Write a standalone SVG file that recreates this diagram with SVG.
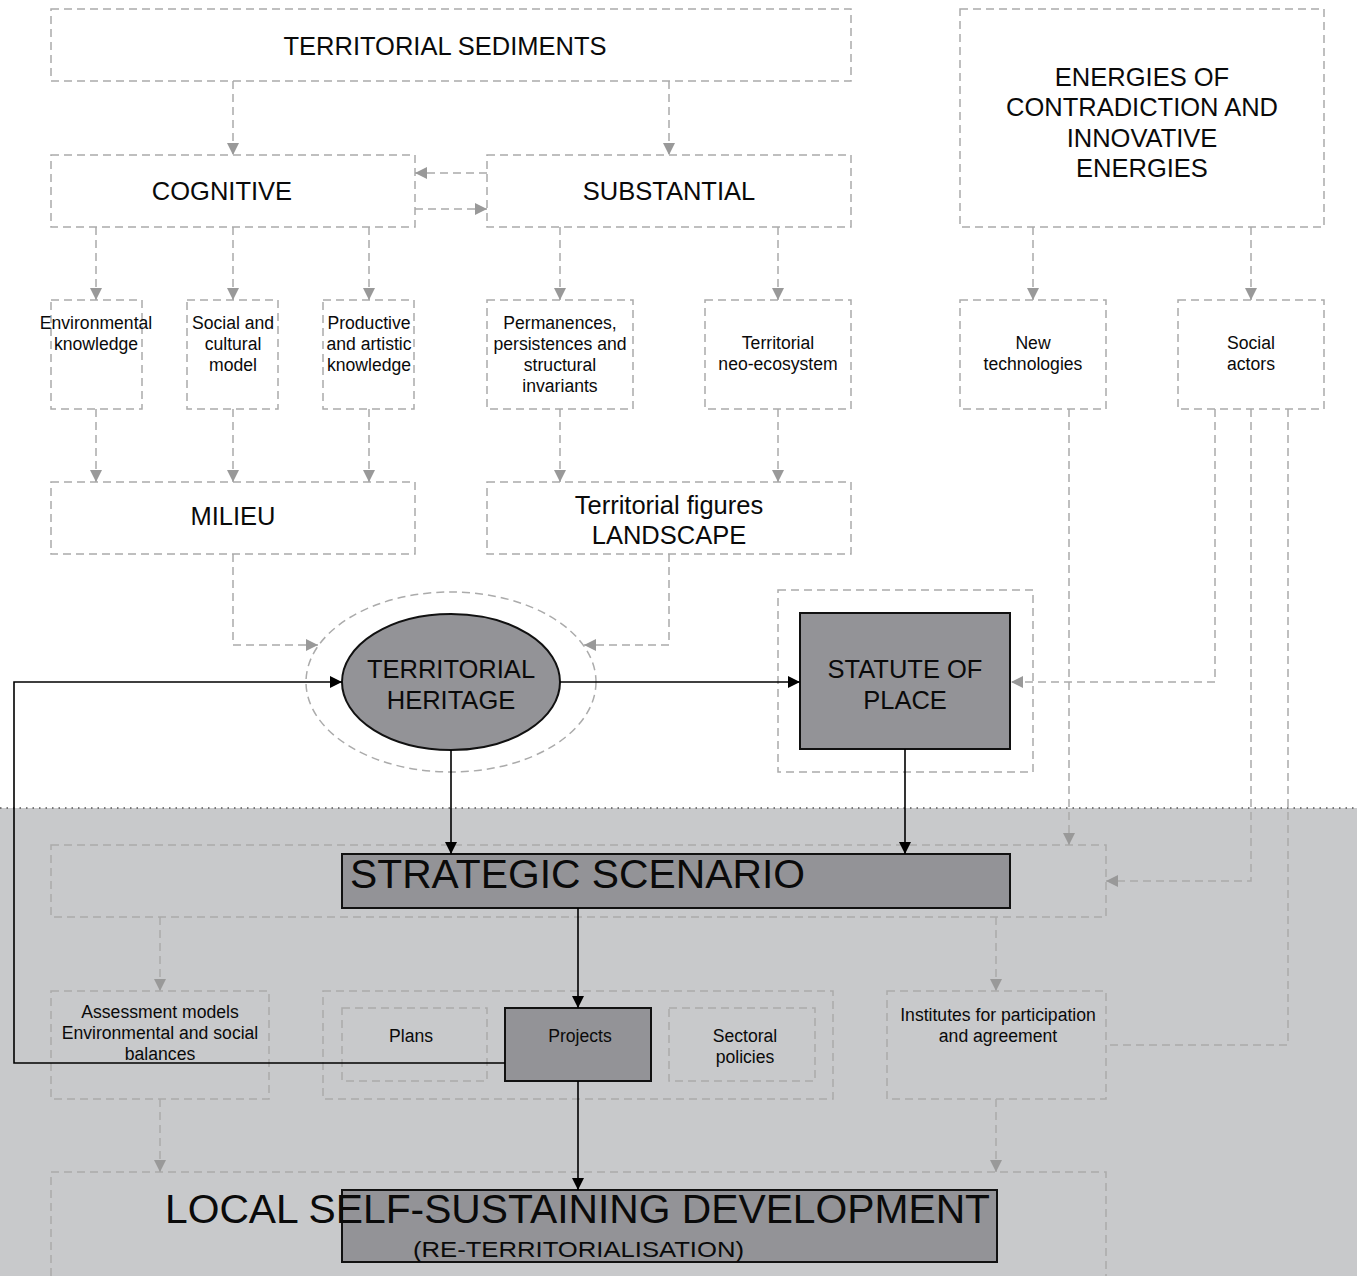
<svg xmlns="http://www.w3.org/2000/svg" width="1357" height="1276" viewBox="0 0 1357 1276">
<style>
.d{fill:none;stroke:#ababab;stroke-width:1.5;stroke-dasharray:8 5}
.dl{fill:none;stroke:#ababab;stroke-width:1.5;stroke-dasharray:8 5}
.s{fill:none;stroke:#000;stroke-width:1.6}
.f{fill:#939397;stroke:#111;stroke-width:2}
text{font-family:"Liberation Sans",Arial,sans-serif;fill:#0a0a0a;text-anchor:middle}
.t22{font-size:25.5px}
.t23{font-size:25.5px}
.t16{font-size:17.6px}
</style>
<defs>
<marker id="ga" markerUnits="userSpaceOnUse" viewBox="0 0 12 12" refX="12" refY="6" markerWidth="12" markerHeight="12" orient="auto"><path d="M0,0 L12,6 L0,12 Z" fill="#999"/></marker>
<marker id="ba" markerUnits="userSpaceOnUse" viewBox="0 0 12 12" refX="12" refY="6" markerWidth="12" markerHeight="12" orient="auto"><path d="M0,0 L12,6 L0,12 Z" fill="#000"/></marker>
</defs>
<rect x="0" y="0" width="1357" height="1276" fill="#fff"/>
<rect x="0" y="808" width="1357" height="468" fill="#c8c9cb"/>
<line x1="0" y1="808" x2="1357" y2="808" stroke="#555" stroke-width="1.5" stroke-dasharray="1.5 5"/>

<g id="n-sediments"><rect class="d" x="51" y="9" width="800" height="72"/><text class="t22" x="445" y="55">TERRITORIAL SEDIMENTS</text></g>
<g id="n-energies"><rect class="d" x="960" y="9" width="364" height="218"/><text class="t22" x="1142" y="86">ENERGIES OF</text><text class="t22" x="1142" y="116">CONTRADICTION AND</text><text class="t22" x="1142" y="147">INNOVATIVE</text><text class="t22" x="1142" y="177">ENERGIES</text></g>
<g id="n-cognitive"><rect class="d" x="51" y="155" width="364" height="72"/><text class="t22" x="222" y="200">COGNITIVE</text></g>
<g id="n-substantial"><rect class="d" x="487" y="155" width="364" height="72"/><text class="t22" x="669" y="200">SUBSTANTIAL</text></g>

<g id="n-env"><rect class="d" x="51" y="300" width="91" height="109"/><text class="t16" x="96" y="329">Environmental</text><text class="t16" x="96" y="350">knowledge</text></g>
<g id="n-social"><rect class="d" x="187" y="300" width="91" height="109"/><text class="t16" x="233" y="329">Social and</text><text class="t16" x="233" y="350">cultural</text><text class="t16" x="233" y="371">model</text></g>
<g id="n-productive"><rect class="d" x="323" y="300" width="91" height="109"/><text class="t16" x="369" y="329">Productive</text><text class="t16" x="369" y="350">and artistic</text><text class="t16" x="369" y="371">knowledge</text></g>
<g id="n-perm"><rect class="d" x="487" y="300" width="146" height="109"/><text class="t16" x="560" y="329">Permanences,</text><text class="t16" x="560" y="350">persistences and</text><text class="t16" x="560" y="371">structural</text><text class="t16" x="560" y="392">invariants</text></g>
<g id="n-neo"><rect class="d" x="705" y="300" width="146" height="109"/><text class="t16" x="778" y="349">Territorial</text><text class="t16" x="778" y="370">neo-ecosystem</text></g>
<g id="n-newtech"><rect class="d" x="960" y="300" width="146" height="109"/><text class="t16" x="1033" y="349">New</text><text class="t16" x="1033" y="370">technologies</text></g>
<g id="n-actors"><rect class="d" x="1178" y="300" width="146" height="109"/><text class="t16" x="1251" y="349">Social</text><text class="t16" x="1251" y="370">actors</text></g>

<g id="n-milieu"><rect class="d" x="51" y="482" width="364" height="72"/><text class="t22" x="233" y="525">MILIEU</text></g>
<g id="n-landscape"><rect class="d" x="487" y="482" width="364" height="72"/><text class="t22" x="669" y="514">Territorial figures</text><text class="t22" x="669" y="544">LANDSCAPE</text></g>

<g id="n-heritage"><ellipse class="d" cx="451" cy="682" rx="145" ry="90"/><ellipse class="f" cx="451" cy="682" rx="109" ry="68"/><text class="t23" x="451" y="678">TERRITORIAL</text><text class="t23" x="451" y="709">HERITAGE</text></g>
<g id="n-statute"><rect class="d" x="778" y="590" width="255" height="182"/><rect class="f" x="800" y="613" width="210" height="136"/><text class="t23" x="905" y="678">STATUTE OF</text><text class="t23" x="905" y="709">PLACE</text></g>

<g id="n-strategic"><rect class="d" x="51" y="845" width="1055" height="72"/><rect class="f" x="342" y="854" width="668" height="54"/><text x="350" y="888" style="font-size:41px;text-anchor:start" textLength="455" lengthAdjust="spacingAndGlyphs">STRATEGIC SCENARIO</text></g>

<g id="n-assessment"><rect class="d" x="51" y="991" width="218" height="108"/><text class="t16" x="160" y="1018">Assessment models</text><text class="t16" x="160" y="1039">Environmental and social</text><text class="t16" x="160" y="1060">balances</text></g>
<g id="n-tools"><rect class="d" x="323" y="991" width="510" height="108"/></g>
<g id="n-plans"><rect class="d" x="342" y="1008" width="145" height="73"/><text class="t16" x="411" y="1042">Plans</text></g>
<g id="n-projects"><rect class="f" x="505" y="1008" width="146" height="73"/><text class="t16" x="580" y="1042">Projects</text></g>
<g id="n-sectoral"><rect class="d" x="669" y="1008" width="146" height="73"/><text class="t16" x="745" y="1042">Sectoral</text><text class="t16" x="745" y="1063">policies</text></g>
<g id="n-institutes"><rect class="d" x="887" y="991" width="219" height="108"/><text class="t16" x="998" y="1021">Institutes for participation</text><text class="t16" x="998" y="1042">and agreement</text></g>

<g id="n-local"><path class="d" d="M51,1276 V1172 H1106 V1276"/><rect class="f" x="342" y="1190" width="655" height="72"/><text x="165" y="1223" style="font-size:40px;text-anchor:start" textLength="825" lengthAdjust="spacingAndGlyphs">LOCAL SELF-SUSTAINING DEVELOPMENT</text><text x="413" y="1257" style="font-size:22px;text-anchor:start" textLength="331" lengthAdjust="spacingAndGlyphs">(RE-TERRITORIALISATION)</text></g>

<g id="connectors">
<path class="dl" d="M233,81 V155" marker-end="url(#ga)"/>
<path class="dl" d="M669,81 V155" marker-end="url(#ga)"/>
<path class="dl" d="M487,173 H415" marker-end="url(#ga)"/>
<path class="dl" d="M415,209 H487" marker-end="url(#ga)"/>
<path class="dl" d="M96,227 V300" marker-end="url(#ga)"/>
<path class="dl" d="M233,227 V300" marker-end="url(#ga)"/>
<path class="dl" d="M369,227 V300" marker-end="url(#ga)"/>
<path class="dl" d="M560,227 V300" marker-end="url(#ga)"/>
<path class="dl" d="M778,227 V300" marker-end="url(#ga)"/>
<path class="dl" d="M1033,227 V300" marker-end="url(#ga)"/>
<path class="dl" d="M1251,227 V300" marker-end="url(#ga)"/>
<path class="dl" d="M96,409 V482" marker-end="url(#ga)"/>
<path class="dl" d="M233,409 V482" marker-end="url(#ga)"/>
<path class="dl" d="M369,409 V482" marker-end="url(#ga)"/>
<path class="dl" d="M560,409 V482" marker-end="url(#ga)"/>
<path class="dl" d="M778,409 V482" marker-end="url(#ga)"/>
<path class="dl" d="M233,554 V645 H318" marker-end="url(#ga)"/>
<path class="dl" d="M669,554 V645 H584" marker-end="url(#ga)"/>
<path class="dl" d="M1069,409 V845" marker-end="url(#ga)"/>
<path class="dl" d="M1215,409 V682 H1011" marker-end="url(#ga)"/>
<path class="dl" d="M1251,409 V881 H1106" marker-end="url(#ga)"/>
<path class="dl" d="M1288,409 V1045 H1106"/>
<path class="dl" d="M160,917 V991" marker-end="url(#ga)"/>
<path class="dl" d="M996,917 V991" marker-end="url(#ga)"/>
<path class="dl" d="M160,1099 V1172" marker-end="url(#ga)"/>
<path class="dl" d="M996,1099 V1172" marker-end="url(#ga)"/>
<path class="s" d="M560,682 H800" marker-end="url(#ba)"/>
<path class="s" d="M505,1063 H14 V682 H342" marker-end="url(#ba)"/>
<path class="s" d="M451,750 V854" marker-end="url(#ba)"/>
<path class="s" d="M905,749 V854" marker-end="url(#ba)"/>
<path class="s" d="M578,908 V1008" marker-end="url(#ba)"/>
<path class="s" d="M578,1081 V1190" marker-end="url(#ba)"/>
</g>
</svg>
